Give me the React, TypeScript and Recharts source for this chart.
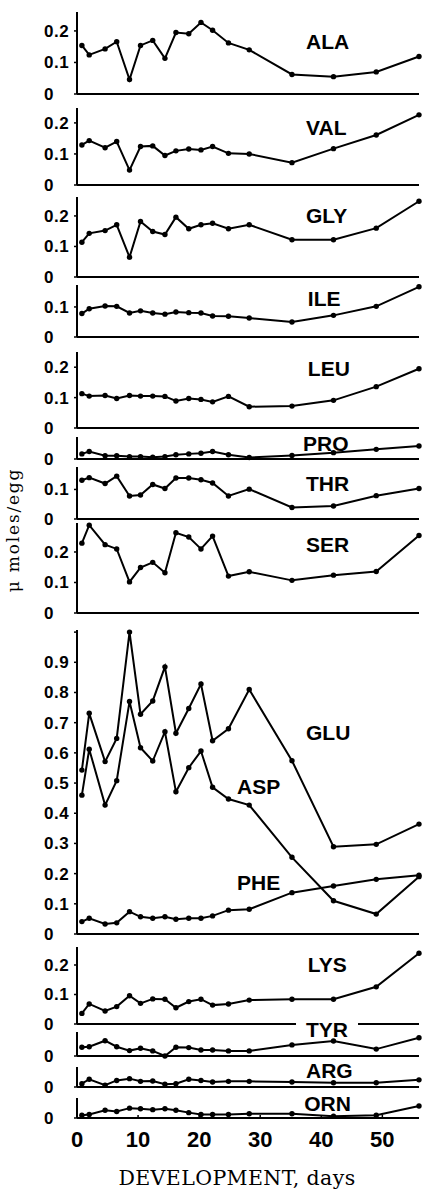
import React from 'react';
import { LineChart, Line, XAxis, YAxis, ReferenceDot } from 'recharts';

// development days of each sample
const days = [0.8, 2, 4.6, 6.5, 8.6, 10.4, 12.4, 14.4, 16.2, 18.3, 20.3, 22.2, 24.8, 28.2, 35.2, 42, 49, 56];

// free amino acids, micromoles per egg
const ala = [0.154, 0.124, 0.143, 0.166, 0.046, 0.154, 0.170, 0.113, 0.195, 0.191, 0.227, 0.202, 0.162, 0.140, 0.062, 0.055, 0.070, 0.119];
const val = [0.129, 0.143, 0.120, 0.140, 0.048, 0.124, 0.126, 0.095, 0.110, 0.116, 0.113, 0.124, 0.102, 0.100, 0.072, 0.117, 0.161, 0.226];
const gly = [0.114, 0.143, 0.152, 0.171, 0.065, 0.182, 0.149, 0.139, 0.196, 0.158, 0.171, 0.176, 0.158, 0.171, 0.122, 0.122, 0.160, 0.248];
const ile = [0.078, 0.094, 0.103, 0.102, 0.080, 0.087, 0.080, 0.076, 0.083, 0.081, 0.080, 0.070, 0.069, 0.063, 0.050, 0.072, 0.102, 0.167];
const leu = [0.113, 0.105, 0.107, 0.097, 0.107, 0.105, 0.105, 0.104, 0.089, 0.097, 0.094, 0.086, 0.104, 0.070, 0.072, 0.091, 0.136, 0.195];
const pro = [0.017, 0.025, 0.011, 0.011, 0.008, 0.008, 0.006, 0.008, 0.014, 0.017, 0.019, 0.025, 0.014, 0.005, 0.012, 0.021, 0.032, 0.043];
const thr = [0.131, 0.140, 0.120, 0.145, 0.078, 0.081, 0.117, 0.103, 0.139, 0.139, 0.133, 0.122, 0.078, 0.101, 0.039, 0.044, 0.079, 0.103];
const ser = [0.229, 0.288, 0.224, 0.210, 0.102, 0.149, 0.166, 0.132, 0.263, 0.249, 0.210, 0.252, 0.121, 0.135, 0.107, 0.124, 0.136, 0.254];
const glu = [0.543, 0.731, 0.571, 0.648, 1.0, 0.728, 0.772, 0.885, 0.665, 0.747, 0.828, 0.640, 0.680, 0.810, 0.574, 0.289, 0.297, 0.364];
const asp = [0.460, 0.612, 0.427, 0.508, 0.770, 0.617, 0.573, 0.670, 0.471, 0.551, 0.606, 0.486, 0.447, 0.427, 0.254, 0.110, 0.066, 0.190];
const phe = [0.041, 0.052, 0.033, 0.037, 0.074, 0.057, 0.052, 0.057, 0.049, 0.052, 0.052, 0.060, 0.079, 0.082, 0.137, 0.159, 0.181, 0.195];
const lys = [0.036, 0.068, 0.044, 0.059, 0.096, 0.070, 0.085, 0.084, 0.055, 0.076, 0.084, 0.064, 0.068, 0.081, 0.084, 0.084, 0.126, 0.240];
const tyr = [0.029, 0.031, 0.051, 0.031, 0.018, 0.026, 0.017, 0.000, 0.029, 0.028, 0.020, 0.020, 0.017, 0.017, 0.037, 0.050, 0.023, 0.061];
const arg = [0.011, 0.026, 0.006, 0.022, 0.028, 0.019, 0.020, 0.009, 0.011, 0.026, 0.022, 0.017, 0.019, 0.019, 0.017, 0.014, 0.014, 0.024];
const orn = [0.009, 0.012, 0.026, 0.022, 0.033, 0.031, 0.028, 0.031, 0.026, 0.018, 0.012, 0.012, 0.012, 0.014, 0.014, 0.006, 0.009, 0.040];

const xTicksInner = [10, 20, 30, 40, 50];
const xTicksBottom = [0, 10, 20, 30, 40, 50];
const xTitle = 'DEVELOPMENT, days';
const yTitle = 'μ moles/egg';

type SeriesDef = { name: string; values: number[] };
type LabelDef = { text: string; day: number; level: number; knockout?: boolean };
type PanelDef = {
  top: number;
  zero: number;
  max: number;
  ticks: number[];
  series: SeriesDef[];
  labels: LabelDef[];
  bottom?: boolean;
};

const panels: PanelDef[] = [
  { top: 12, zero: 94, max: 0.26, ticks: [0, 0.1, 0.2], series: [{ name: 'ALA', values: ala }], labels: [{ text: 'ALA', day: 37.5, level: 0.165 }] },
  { top: 108, zero: 185, max: 0.248, ticks: [0, 0.1, 0.2], series: [{ name: 'VAL', values: val }], labels: [{ text: 'VAL', day: 37.5, level: 0.184 }] },
  { top: 197, zero: 277, max: 0.262, ticks: [0, 0.1, 0.2], series: [{ name: 'GLY', values: gly }], labels: [{ text: 'GLY', day: 37.5, level: 0.2 }] },
  { top: 285, zero: 337, max: 0.173, ticks: [0, 0.1], series: [{ name: 'ILE', values: ile }], labels: [{ text: 'ILE', day: 37.8, level: 0.127 }] },
  { top: 352, zero: 428, max: 0.25, ticks: [0, 0.1, 0.2], series: [{ name: 'LEU', values: leu }], labels: [{ text: 'LEU', day: 37.8, level: 0.197 }] },
  { top: 437, zero: 459, max: 0.073, ticks: [0], series: [{ name: 'PRO', values: pro }], labels: [{ text: 'PRO', day: 37, level: 0.053 }] },
  { top: 467, zero: 519, max: 0.176, ticks: [0, 0.1], series: [{ name: 'THR', values: thr }], labels: [{ text: 'THR', day: 37.5, level: 0.119 }] },
  { top: 523, zero: 613, max: 0.295, ticks: [0, 0.1, 0.2], series: [{ name: 'SER', values: ser }], labels: [{ text: 'SER', day: 37.5, level: 0.223 }] },
  {
    top: 630, zero: 934, max: 1.007,
    ticks: [0, 0.1, 0.2, 0.3, 0.4, 0.5, 0.6, 0.7, 0.8, 0.9, 1.0],
    series: [{ name: 'GLU', values: glu }, { name: 'ASP', values: asp }, { name: 'PHE', values: phe }],
    labels: [
      { text: 'GLU', day: 37.5, level: 0.666 },
      { text: 'ASP', day: 26.2, level: 0.49 },
      { text: 'PHE', day: 26.2, level: 0.169 },
    ],
  },
  { top: 947, zero: 1024, max: 0.261, ticks: [0, 0.1, 0.2], series: [{ name: 'LYS', values: lys }], labels: [{ text: 'LYS', day: 37.8, level: 0.2 }] },
  { top: 1032, zero: 1056, max: 0.08, ticks: [0], series: [{ name: 'TYR', values: tyr }], labels: [{ text: 'TYR', day: 37.5, level: 0.087, knockout: true }] },
  { top: 1067, zero: 1087, max: 0.067, ticks: [0], series: [{ name: 'ARG', values: arg }], labels: [{ text: 'ARG', day: 37.5, level: 0.057 }] },
  { top: 1098, zero: 1118, max: 0.067, ticks: [0], series: [{ name: 'ORN', values: orn }], labels: [{ text: 'ORN', day: 37.2, level: 0.05 }], bottom: true },
];

const SANS = '"Liberation Sans", Arial, sans-serif';
const SERIF = '"DejaVu Serif", "Liberation Serif", serif';
const W = 424;
const Y_AXIS_W = 77;
const RIGHT = 5;
const BOTTOM_AXIS_H = 40;

const YTick = (props: any) => {
  const { y, payload } = props;
  const v = payload.value as number;
  if (v > 0.95) return null;
  const txt = v === 0 ? '0' : v.toFixed(1);
  return (
    <text x={44} y={y} dy={6} textAnchor="start" fontFamily={SANS} fontSize={17} fontWeight="bold" letterSpacing={0.5} fill="#000">
      {txt}
    </text>
  );
};

const XTick = (props: any) => {
  const { x, y, payload } = props;
  return (
    <text x={x} y={y} dy={32} textAnchor="middle" fontFamily={SANS} fontSize={22} fontWeight="bold" fill="#000">
      {String(payload.value)}
    </text>
  );
};

const makeLabel = (text: string, knockout?: boolean) => (p: any) => {
  const vb = p.viewBox || {};
  return (
    <g>
      {knockout ? <rect x={vb.x - 10} y={vb.y - 11} width={62} height={9} fill="#fff" /> : null}
      <text x={vb.x} y={vb.y} dy={7.5} textAnchor="start" fontFamily={SANS} fontSize={21} fontWeight="bold" fill="#000">
        {text}
      </text>
    </g>
  );
};

function Panel({ def }: { def: PanelDef }) {
  const rows = days.map((d, i) => {
    const row: Record<string, number> = { day: d };
    def.series.forEach((s) => {
      row[s.name] = s.values[i];
    });
    return row;
  });
  const plotH = def.zero - def.top;
  const xh = def.bottom ? BOTTOM_AXIS_H : 1;
  return (
    <div style={{ position: 'absolute', left: 0, top: def.top }}>
      <LineChart width={W} height={plotH + xh} data={rows} margin={{ top: 0, right: RIGHT, bottom: 0, left: 0 }}>
        <XAxis
          dataKey="day"
          type="number"
          domain={[0, 56]}
          ticks={def.bottom ? xTicksBottom : xTicksInner}
          height={xh}
          axisLine={{ stroke: '#000', strokeWidth: 2 }}
          tickLine={{ stroke: '#000', strokeWidth: 1.5 }}
          tickSize={-3}
          tickMargin={0}
          tick={def.bottom ? <XTick /> : false}
          interval={0}
        />
        <YAxis
          type="number"
          domain={[0, def.max]}
          ticks={def.ticks}
          width={Y_AXIS_W}
          axisLine={{ stroke: '#000', strokeWidth: 2 }}
          tickLine={{ stroke: '#000', strokeWidth: 1.5 }}
          tickSize={3}
          tick={<YTick />}
          interval={0}
        />
        {def.series.map((s) => (
          <Line
            key={s.name}
            dataKey={s.name}
            type="linear"
            stroke="#000"
            strokeWidth={2}
            dot={{ r: 2.7, fill: '#000', stroke: 'none' }}
            isAnimationActive={false}
          />
        ))}
        {def.labels.map((l) => (
          <ReferenceDot
            key={l.text}
            x={l.day}
            y={l.level}
            r={0}
            ifOverflow="visible"
            fill="none"
            stroke="none"
            label={makeLabel(l.text, l.knockout)}
          />
        ))}
      </LineChart>
    </div>
  );
}

export default function App() {
  return (
    <div style={{ position: 'absolute', left: 0, top: 0, width: W, height: 1191, background: '#fff' }}>
      <style>{'.recharts-surface{overflow:visible}'}</style>
      {panels.map((p, i) => (
        <Panel key={i} def={p} />
      ))}
      <svg width={W} height={1191} style={{ position: 'absolute', left: 0, top: 0, pointerEvents: 'none' }}>
        <text
          x={0}
          y={0}
          transform="translate(19 530) rotate(-90)"
          textAnchor="middle"
          fontFamily={SERIF}
          fontSize={17}
          letterSpacing={1.8}
          fill="#000"
        >
          {yTitle}
        </text>
        <text x={237} y={1185} textAnchor="middle" fontFamily={SERIF} fontSize={20.5} letterSpacing={0.4} fill="#000">
          {xTitle}
        </text>
      </svg>
    </div>
  );
}
